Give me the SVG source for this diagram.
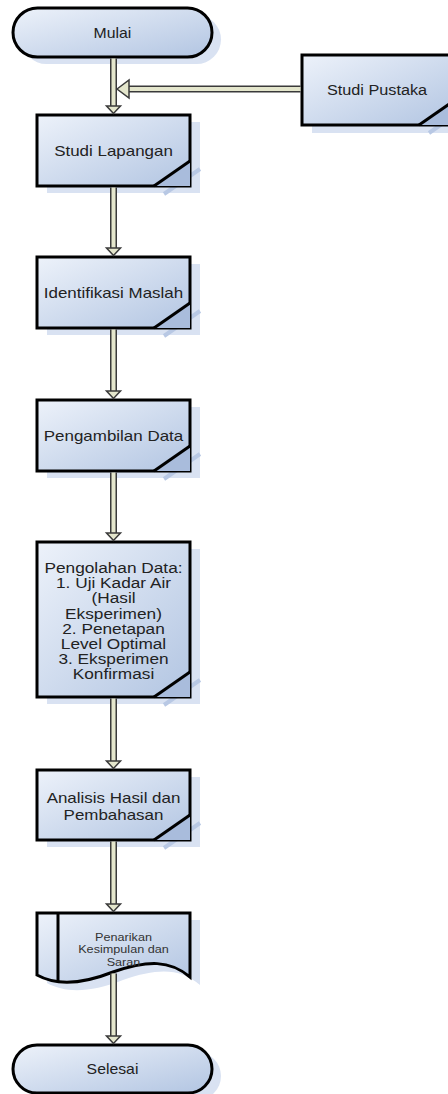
<svg xmlns="http://www.w3.org/2000/svg" width="448" height="1094" viewBox="0 0 448 1094">
<defs>
<linearGradient id="g" x1="0" y1="0" x2="1" y2="1">
<stop offset="0" stop-color="#edf2fa"/>
<stop offset="1" stop-color="#b2c5e2"/>
</linearGradient>
<style>
.box{fill:url(#g);stroke:#000;stroke-width:3}
.sh{fill:#d9e2f2}
.shl{stroke:#b8c8e4;stroke-width:4;fill:none}
.fold{fill:#a9bcdc;stroke:none}
.fl{stroke:#000;stroke-width:3;fill:none}
.t{font-family:"Liberation Sans",Arial,sans-serif;font-size:15px;fill:#222;text-anchor:middle}
.so{stroke:#3a3a3a;stroke-width:7;fill:none}
.si{stroke:#e4e6cc;stroke-width:4;fill:none}
.ah{fill:#e4e6cc;stroke:#3a3a3a;stroke-width:1.5;stroke-linejoin:miter}
</style>
</defs>

<g id="mulai">
<rect class="sh" x="22" y="15" width="199" height="49" rx="24.5"/>
<rect class="box" x="13" y="8" width="199" height="49" rx="24.5"/>
<text class="t" style="font-size:14px" transform="translate(112.5,38) scale(1.13,1)">Mulai</text>
</g>

<g id="studi-pustaka">
<rect class="sh" x="312" y="62" width="153" height="71"/>
<line class="shl" x1="429" y1="133" x2="465" y2="108"/>
<rect class="box" x="302" y="55" width="153" height="70"/>
<polygon class="fold" points="419,125 455,100 455,125"/>
<line class="fl" x1="419" y1="125" x2="455" y2="100"/>
<text class="t" style="font-size:14px" transform="translate(377,95) scale(1.16,1)">Studi Pustaka</text>
</g>

<g id="studi-lapangan">
<rect class="sh" x="47" y="122" width="153" height="71"/>
<line class="shl" x1="164" y1="194" x2="200" y2="169"/>
<rect class="box" x="37" y="115" width="153" height="71"/>
<polygon class="fold" points="154,186 190,161 190,186"/>
<line class="fl" x1="154" y1="186" x2="190" y2="161"/>
<text class="t" transform="translate(113.5,156) scale(1.13,1)">Studi Lapangan</text>
</g>

<g id="identifikasi">
<rect class="sh" x="47" y="264" width="153" height="71"/>
<line class="shl" x1="164" y1="336" x2="200" y2="311"/>
<rect class="box" x="37" y="257" width="153" height="71"/>
<polygon class="fold" points="154,328 190,303 190,328"/>
<line class="fl" x1="154" y1="328" x2="190" y2="303"/>
<text class="t" transform="translate(113.5,298) scale(1.13,1)">Identifikasi Maslah</text>
</g>

<g id="pengambilan">
<rect class="sh" x="47" y="407" width="153" height="71"/>
<line class="shl" x1="164" y1="479" x2="200" y2="454"/>
<rect class="box" x="37" y="400" width="153" height="71"/>
<polygon class="fold" points="154,471 190,446 190,471"/>
<line class="fl" x1="154" y1="471" x2="190" y2="446"/>
<text class="t" transform="translate(113.5,441) scale(1.13,1)">Pengambilan Data</text>
</g>

<g id="pengolahan">
<rect class="sh" x="47" y="549" width="153" height="155"/>
<line class="shl" x1="164" y1="705" x2="200" y2="680"/>
<rect class="box" x="37" y="542" width="153" height="155"/>
<polygon class="fold" points="154,697 190,672 190,697"/>
<line class="fl" x1="154" y1="697" x2="190" y2="672"/>
<text class="t" transform="translate(113.5,573) scale(1.15,1)"><tspan x="0" y="0">Pengolahan Data:</tspan><tspan x="0" dy="15.2">1. Uji Kadar Air</tspan><tspan x="0" dy="15.2">(Hasil</tspan><tspan x="0" dy="15.2">Eksperimen)</tspan><tspan x="0" dy="15.2">2. Penetapan</tspan><tspan x="0" dy="15.2">Level Optimal</tspan><tspan x="0" dy="15.2">3. Eksperimen</tspan><tspan x="0" dy="15.2">Konfirmasi</tspan></text>
</g>

<g id="analisis">
<rect class="sh" x="47" y="777" width="153" height="70"/>
<line class="shl" x1="164" y1="848" x2="200" y2="823"/>
<rect class="box" x="37" y="770" width="153" height="70"/>
<polygon class="fold" points="154,840 190,815 190,840"/>
<line class="fl" x1="154" y1="840" x2="190" y2="815"/>
<text class="t" transform="translate(113.5,803) scale(1.13,1)"><tspan x="0" y="0">Analisis Hasil dan</tspan><tspan x="0" dy="17">Pembahasan</tspan></text>
</g>

<g id="penarikan">
<path class="sh" d="M47,920 H200 V985 C180,968 158,968 123,980 C90,993 65,993 47,983 Z"/>
<path class="box" d="M37,913 H190 V977 C170,960 148,960 113,972 C80,985 55,985 37,975 Z"/>
<line class="fl" x1="58" y1="913" x2="58" y2="982"/>
<text class="t" style="font-size:11px;fill:#333" transform="translate(123.5,941) scale(1.15,1)"><tspan x="0" y="0">Penarikan</tspan><tspan x="0" dy="12.5">Kesimpulan dan</tspan><tspan x="0" dy="12.5">Saran</tspan></text>
</g>

<g id="selesai">
<rect class="sh" x="22" y="1052" width="199" height="48" rx="24"/>
<rect class="box" x="13" y="1045" width="199" height="48" rx="24"/>
<text class="t" style="font-size:14px" transform="translate(112.5,1074) scale(1.13,1)">Selesai</text>
</g>

<g id="connectors">
<path class="so" d="M113.5,58.5 V107"/><path class="si" d="M113.5,58.5 V107"/>
<polygon class="ah" points="113.5,113.5 106.5,106 120.5,106"/>
<path class="so" d="M300.5,89 H127"/><path class="si" d="M300.5,89 H127"/>
<polygon class="ah" points="117,89 129,80 129,98"/>
<path class="so" d="M113.5,187.5 V249"/><path class="si" d="M113.5,187.5 V249"/>
<polygon class="ah" points="113.5,255.5 106.5,248 120.5,248"/>
<path class="so" d="M113.5,329.5 V392"/><path class="si" d="M113.5,329.5 V392"/>
<polygon class="ah" points="113.5,398.5 106.5,391 120.5,391"/>
<path class="so" d="M113.5,472.5 V534"/><path class="si" d="M113.5,472.5 V534"/>
<polygon class="ah" points="113.5,540.5 106.5,533 120.5,533"/>
<path class="so" d="M113.5,698.5 V762"/><path class="si" d="M113.5,698.5 V762"/>
<polygon class="ah" points="113.5,768.5 106.5,761 120.5,761"/>
<path class="so" d="M113.5,841.5 V905"/><path class="si" d="M113.5,841.5 V905"/>
<polygon class="ah" points="113.5,911.5 106.5,904 120.5,904"/>
<path class="so" d="M113.5,973.5 V1037"/><path class="si" d="M113.5,973.5 V1037"/>
<polygon class="ah" points="113.5,1043.5 106.5,1036 120.5,1036"/>
</g>
</svg>
